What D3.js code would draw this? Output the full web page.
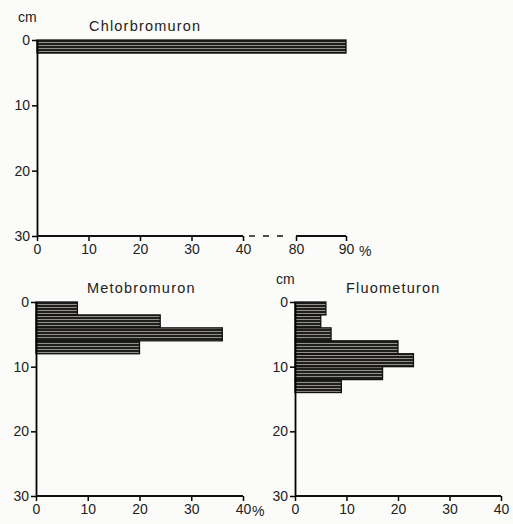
<!DOCTYPE html>
<html>
<head>
<meta charset="utf-8">
<script src="https://cdn.jsdelivr.net/npm/d3@7"></script>
<style>
  body { margin: 0; background: #fbfbf9; }
  svg text { font-family: "Liberation Sans", "DejaVu Sans", sans-serif; font-size: 14px; fill: #222; }
  svg text.title { font-size: 14.5px; letter-spacing: 1.2px; }
</style>
</head>
<body>
<div id="chart"></div>
<script>
// soil depth layers (cm) and share of herbicide found (%)
const chlorLayers = [[0, 2]]
const chlorValues = [90]
const metoLayers = [[0, 2], [2, 4], [4, 6], [6, 8]]
const metoValues = [8, 24, 36, 20]
const fluoLayers = [[0, 2], [2, 4], [4, 6], [6, 8], [8, 10], [10, 12], [12, 14]]
const fluoValues = [6, 5, 7, 20, 23, 17, 9]
const depthTicks = [0, 10, 20, 30]
const topTicks = [0, 10, 20, 30, 40, 80, 90]
const bottomTicks = [0, 10, 20, 30, 40]

const svg = d3.select('#chart').append('svg')
  .attr('width', 513)
  .attr('height', 524)

// horizontal line hatching used inside the bars
const pat = svg.append('defs').append('pattern')
  .attr('id', 'hatch')
  .attr('patternUnits', 'userSpaceOnUse')
  .attr('width', 8).attr('height', 3)
pat.append('rect').attr('width', 8).attr('height', 3).attr('fill', '#a19d95')
pat.append('rect').attr('width', 8).attr('height', 2.1).attr('fill', '#1e1e1e')

function panel (cfg) {
  const g = svg.append('g').attr('transform', `translate(${cfg.left},${cfg.top})`)
  const y = d3.scaleLinear().domain([0, 30]).range([0, cfg.height])
  const x = cfg.x

  const data = cfg.layers.map((l, i) => ({from: l[0], to: l[1], v: cfg.values[i]}))
  g.selectAll('rect.bar')
    .data(data)
    .join('rect')
    .attr('class', 'bar')
    .attr('x', 0)
    .attr('y', d => y(d.from))
    .attr('width', d => x(d.v))
    .attr('height', d => y(d.to) - y(d.from))
    .attr('fill', 'url(#hatch)')
    .attr('stroke', '#111')
    .attr('stroke-width', 1.3)

  const yAxis = d3.axisLeft(y).tickValues(depthTicks).tickSize(5).tickPadding(2).tickSizeOuter(0)
  g.append('g').call(yAxis)
    .call(a => a.select('.domain').attr('stroke-width', 1.8))
    .call(a => a.selectAll('line').attr('stroke-width', 1.5))

  const xAxis = d3.axisBottom(x).tickValues(cfg.ticks).tickSize(5).tickPadding(3)
    .tickFormat(d => d)
  const xa = g.append('g').attr('transform', `translate(0,${cfg.height})`).call(xAxis)
  xa.select('.domain').remove()
  xa.selectAll('line').attr('stroke-width', 1.5)

  if (cfg.broken) {
    g.append('line').attr('x1', x(0)).attr('x2', x(40)).attr('y1', cfg.height).attr('y2', cfg.height)
      .attr('stroke', '#111').attr('stroke-width', 1.8)
    g.append('line').attr('x1', x(40) + 6).attr('x2', x(80) - 6).attr('y1', cfg.height).attr('y2', cfg.height)
      .attr('stroke', '#111').attr('stroke-width', 1.4).attr('stroke-dasharray', '6,8')
    g.append('line').attr('x1', x(80)).attr('x2', x(90)).attr('y1', cfg.height).attr('y2', cfg.height)
      .attr('stroke', '#111').attr('stroke-width', 1.8)
  } else {
    g.append('line').attr('x1', x(0)).attr('x2', x(40)).attr('y1', cfg.height).attr('y2', cfg.height)
      .attr('stroke', '#111').attr('stroke-width', 1.8)
  }

  if (cfg.unit) {
    g.append('text').attr('x', x(cfg.ticks[cfg.ticks.length - 1]) + cfg.unitGap).attr('y', cfg.height + 20)
      .text('%')
  }
  if (cfg.cm) {
    g.append('text').attr('x', -19).attr('y', -18).attr('font-size', 13).text('cm')
  }
  g.append('text').attr('class', 'title').attr('x', cfg.titleX).attr('y', -9).text(cfg.title)
  return g
}

panel({
  left: 37, top: 40, height: 196,
  x: d3.scaleLinear().domain([0, 40, 80, 90]).range([0, 206, 259, 309]),
  ticks: topTicks, broken: true, unit: true, unitGap: 13, cm: true,
  layers: chlorLayers, values: chlorValues,
  title: 'Chlorbromuron', titleX: 52
})

panel({
  left: 36, top: 302, height: 194,
  x: d3.scaleLinear().domain([0, 40]).range([0, 207]),
  ticks: bottomTicks, broken: false, unit: true, unitGap: 9, cm: false,
  layers: metoLayers, values: metoValues,
  title: 'Metobromuron', titleX: 51
})

panel({
  left: 295, top: 302, height: 194,
  x: d3.scaleLinear().domain([0, 40]).range([0, 206]),
  ticks: bottomTicks, broken: false, unit: false, cm: true,
  layers: fluoLayers, values: fluoValues,
  title: 'Fluometuron', titleX: 51
})
</script>
</body>
</html>
